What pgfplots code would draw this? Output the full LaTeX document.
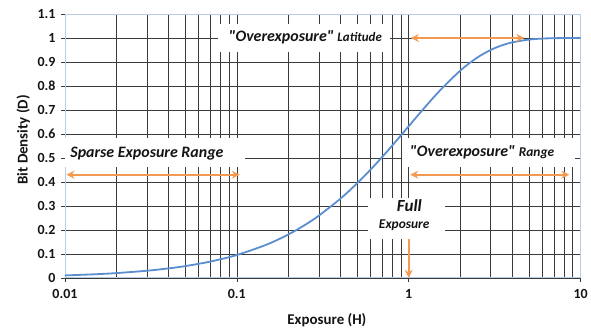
\documentclass[border=0pt]{standalone}
\usepackage{fontspec}
\setmainfont{Carlito}
\newfontfamily\qfont{Carlito}[Ligatures=TeXOff]
\usepackage{pgfplots}
\pgfplotsset{compat=1.18}
\usetikzlibrary{arrows.meta}
\definecolor{curve}{HTML}{5B8ED0}
\definecolor{arr}{HTML}{F39A50}
\definecolor{grd}{HTML}{3A3A3A}
\definecolor{frame}{HTML}{B9CDE5}
\begin{document}
\begin{tikzpicture}
\begin{axis}[
  name=ax,
  scale only axis, width=516bp, height=264bp,
  xmode=log, xmin=0.01, xmax=10, ymin=0, ymax=1.1,
  xtick={0.01,0.1,1,10},
  xticklabels={\textbf{0.01},\textbf{0.1},\textbf{1},\textbf{10}},
  ytick={0,0.1,0.2,0.3,0.4,0.5,0.6,0.7,0.8,0.9,1,1.1},
  yticklabels={\textbf{0},\textbf{0.1},\textbf{0.2},\textbf{0.3},\textbf{0.4},\textbf{0.5},\textbf{0.6},\textbf{0.7},\textbf{0.8},\textbf{0.9},\textbf{1},\textbf{1.1}},
  /pgf/number format/assume math mode=true,
  grid=both,
  major grid style={draw=grd, line width=0.6bp},
  minor grid style={draw=grd, line width=0.6bp},
  axis line style={draw=frame, line width=0.8bp},
  tick align=outside, xtick pos=bottom, ytick pos=left,
  major tick length=4bp, minor tick length=0pt,
  tick style={draw=grd, line width=0.6bp},
  ticklabel style={font=\fontsize{14}{16}\selectfont, text=black!92},
  xticklabel style={yshift=-4bp},
  yticklabel style={xshift=-2bp},
  every axis x label/.style={at={(axis description cs:0.508,-0.159)}, anchor=center},
  every axis y label/.style={at={(axis description cs:-0.081,0.523)}, rotate=90, anchor=center},
  label style={font=\fontsize{15}{17}\selectfont, text=black!92},
  xlabel={\textbf{Exposure (H)}}, ylabel={\textbf{Bit Density (D)}},
]
\addplot[curve, line width=1.8bp, smooth] coordinates {
(0.01,0.00995) (0.015,0.01489) (0.02,0.01980) (0.03,0.02955) (0.04,0.03921)
(0.05,0.04877) (0.07,0.06761) (0.1,0.09516) (0.15,0.13929) (0.2,0.18127)
(0.25,0.22120) (0.3,0.25918) (0.4,0.32968) (0.5,0.39347) (0.6,0.45119)
(0.7,0.50341) (0.8,0.55067) (0.9,0.59343) (1,0.63212) (1.2,0.69881)
(1.5,0.77687) (2,0.86466) (2.5,0.91792) (3,0.95021) (3.5,0.96980)
(4,0.98168) (5,0.99326) (6,0.99752) (7,0.99909) (8,0.99966) (10,0.99995)
};
% white boxes
\node[fill=white, inner sep=0pt, minimum width=172bp, minimum height=28bp]
  at (rel axis cs:0.463,0.909) {};
\node[fill=white, inner sep=0pt, minimum width=180bp, minimum height=29bp]
  at (rel axis cs:0.1745,0.475) {};
\node[fill=white, inner sep=0pt, minimum width=173bp, minimum height=29bp]
  at (rel axis cs:0.8206,0.475) {};
\node[fill=white, inner sep=0pt, minimum width=77bp, minimum height=41bp]
  at (rel axis cs:0.662,0.225) {};
% texts
\node[inner sep=0pt, anchor=base, text=black!92, font=\qfont\bfseries\itshape\fontsize{16}{18}\selectfont]
  at (rel axis cs:0.466,0.894) {"Overexposure" {\fontsize{13}{15}\selectfont Latitude}};
\node[inner sep=0pt, anchor=base, text=black!92, font=\qfont\bfseries\itshape\fontsize{16}{18}\selectfont]
  at (rel axis cs:0.159,0.4545) {Sparse Exposure Range};
\node[inner sep=0pt, anchor=base, text=black!92, font=\qfont\bfseries\itshape\fontsize{16}{18}\selectfont]
  at (rel axis cs:0.809,0.458) {"Overexposure" {\fontsize{13.5}{15}\selectfont Range}};
\node[inner sep=0pt, anchor=base, text=black!92, font=\qfont\bfseries\itshape\fontsize{17}{19}\selectfont]
  at (rel axis cs:0.668,0.25) {Full};
\node[inner sep=0pt, anchor=base, text=black!92, font=\qfont\bfseries\itshape\fontsize{13.5}{15}\selectfont]
  at (rel axis cs:0.658,0.186) {Exposure};
% arrows
\draw[arr, line width=2.2bp, {Stealth[length=8bp,width=8bp]}-{Stealth[length=8bp,width=8bp]}]
  (axis cs:1.03,1) -- (axis cs:4.7,1);
\draw[arr, line width=2.2bp, {Stealth[length=8bp,width=8bp]}-{Stealth[length=8bp,width=8bp]}]
  (axis cs:0.0102,0.43) -- (axis cs:0.104,0.43);
\draw[arr, line width=2.2bp, {Stealth[length=8bp,width=8bp]}-{Stealth[length=8bp,width=8bp]}]
  (axis cs:1.02,0.43) -- (axis cs:8.6,0.43);
\draw[arr, line width=2.2bp, -{Stealth[length=8bp,width=8bp]}]
  (axis cs:1,0.16) -- (axis cs:1,0.0);
\end{axis}
\useasboundingbox (ax.south west) ++(-65bp,-51bp) rectangle ([xshift=10bp,yshift=14bp]ax.north east);
\end{tikzpicture}
\end{document}
